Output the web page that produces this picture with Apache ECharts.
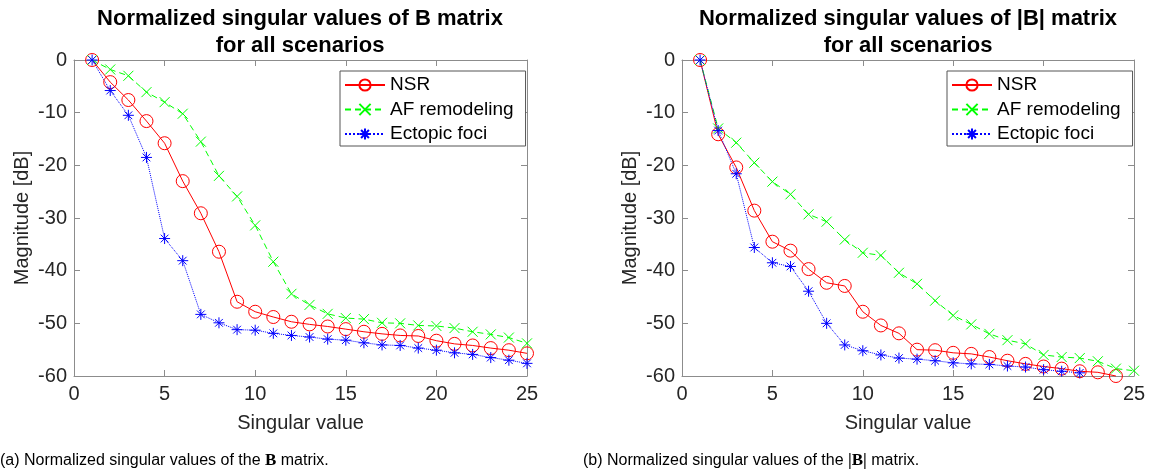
<!DOCTYPE html>
<html>
<head>
<meta charset="utf-8">
<script src="https://cdn.jsdelivr.net/npm/echarts@6/dist/echarts.min.js"></script>
<style>
html,body{margin:0;padding:0;background:#fff;}
#c{width:1150px;height:475px;}
</style>
</head>
<body>
<div id="c"></div>
<script>
// ---- data ----
var singularIdx = [1,2,3,4,5,6,7,8,9,10,11,12,13,14,15,16,17,18,19,20,21,22,23,24,25];
var seriesNames = ['NSR', 'AF remodeling', 'Ectopic foci'];
var xTicks = [0, 5, 10, 15, 20, 25];
var yTicks = [-60, -50, -40, -30, -20, -10, 0];

// (a) B matrix
var leftNSR = [0,-4.2,-7.6,-11.6,-15.8,-23.0,-29.1,-36.4,-45.9,-47.8,-48.8,-49.7,-50.2,-50.6,-51.1,-51.6,-52.0,-52.3,-52.4,-53.3,-53.9,-54.2,-54.7,-55.1,-55.7];
var leftAF = [0,-1.8,-3.0,-6.1,-8.0,-10.2,-15.5,-22.0,-25.9,-31.4,-38.3,-44.4,-46.5,-48.2,-49.0,-49.2,-49.9,-50.0,-50.4,-50.5,-50.9,-51.6,-52.1,-52.7,-53.8];
var leftEF = [0,-5.8,-10.5,-18.5,-33.9,-38.1,-48.3,-49.9,-51.2,-51.3,-51.9,-52.3,-52.6,-53.0,-53.2,-53.7,-54.1,-54.2,-54.7,-55.1,-55.6,-55.9,-56.5,-57.0,-57.6];

// (b) |B| matrix
var rightNSR = [0,-14.1,-20.4,-28.6,-34.5,-36.2,-39.7,-42.3,-42.9,-47.8,-50.4,-51.9,-55.0,-55.1,-55.6,-55.8,-56.4,-57.1,-57.7,-58.2,-58.6,-59.1,-59.3,-60.0];
var rightAF = [0,-13.0,-15.7,-19.5,-23.1,-25.5,-29.3,-30.7,-34.1,-36.6,-37.1,-40.4,-42.5,-45.7,-48.5,-50.2,-52.0,-53.2,-53.9,-56.0,-56.4,-56.6,-57.2,-58.6,-59.0];
var rightEF = [0,-13.4,-21.6,-35.6,-38.5,-39.2,-43.9,-50.0,-54.1,-55.2,-56.0,-56.6,-56.8,-57.1,-57.5,-57.7,-57.8,-58.1,-58.3,-58.8,-59.1,-59.4];

var titles = ['Normalized singular values of B matrix\nfor all scenarios',
              'Normalized singular values of |B| matrix\nfor all scenarios'];
var captions = ['(a) Normalized singular values of the {b|B} matrix.',
                '(b) Normalized singular values of the {b||}{b|B}{b||} matrix.'];

// ---- build ----
function pairs(vals){ return vals.map(function(v,i){ return [singularIdx[i], v]; }); }

var FONT = '"Liberation Sans", Arial, sans-serif';
var AXC = '#8c8c8c';
var TXC = '#262626';
var xSym = 'path://M0,0L10,10M10,0L0,10';
var starSym = 'path://M5,0L5,10M0,5L10,5M1.5,1.5L8.5,8.5M8.5,1.5L1.5,8.5';

var styles = [
  {color:'#ff0000', type:'solid', symbol:'circle', size:13},
  {color:'#00ff00', type:[6,4], symbol:xSym, size:10},
  {color:'#0000ff', type:'dotted', symbol:starSym, size:11}
];

var grids = [
  {left:74, right:623, top:60, bottom:99},
  {left:682, right:16, top:60, bottom:99}
];

var xAxes = [], yAxes = [];
grids.forEach(function(g, gi){
  xAxes.push({
    gridIndex: gi, type:'value', min: xTicks[0], max: xTicks[xTicks.length-1], interval: xTicks[1]-xTicks[0],
    position:'bottom',
    axisLine:{show:true, onZero:false, lineStyle:{color:AXC, width:1}},
    axisTick:{show:true, inside:true, length:6, lineStyle:{color:AXC}},
    axisLabel:{color:TXC, fontSize:20, fontFamily:FONT, margin:8},
    splitLine:{show:false},
    name:'Singular value', nameLocation:'middle', nameGap:37,
    nameTextStyle:{color:TXC, fontSize:20, fontFamily:FONT}
  });
  xAxes.push({
    gridIndex: gi, type:'value', min: xTicks[0], max: xTicks[xTicks.length-1], interval: xTicks[1]-xTicks[0],
    position:'top',
    axisLine:{show:true, onZero:false, lineStyle:{color:AXC, width:1}},
    axisTick:{show:true, inside:true, length:6, lineStyle:{color:AXC}},
    axisLabel:{show:false}, splitLine:{show:false}
  });
  yAxes.push({
    gridIndex: gi, type:'value', min: yTicks[0], max: yTicks[yTicks.length-1], interval: yTicks[1]-yTicks[0],
    position:'left',
    axisLine:{show:true, onZero:false, lineStyle:{color:AXC, width:1}},
    axisTick:{show:true, inside:true, length:6, lineStyle:{color:AXC}},
    axisLabel:{color:TXC, fontSize:20, fontFamily:FONT, margin:7},
    splitLine:{show:false},
    name:'Magnitude [dB]', nameLocation:'middle', nameGap:42, nameRotate:90,
    nameTextStyle:{color:TXC, fontSize:20, fontFamily:FONT}
  });
  yAxes.push({
    gridIndex: gi, type:'value', min: yTicks[0], max: yTicks[yTicks.length-1], interval: yTicks[1]-yTicks[0],
    position:'right',
    axisLine:{show:true, onZero:false, lineStyle:{color:AXC, width:1}},
    axisTick:{show:true, inside:true, length:6, lineStyle:{color:AXC}},
    axisLabel:{show:false}, splitLine:{show:false}
  });
});

var dataSets = [[leftNSR, leftAF, leftEF], [rightNSR, rightAF, rightEF]];
var series = [];
dataSets.forEach(function(set, gi){
  set.forEach(function(vals, si){
    var s = styles[si];
    series.push({
      name: seriesNames[si], type:'line',
      xAxisIndex: gi*2, yAxisIndex: gi*2,
      data: pairs(vals),
      symbol: s.symbol, symbolSize: s.size, showAllSymbol:true,
      clip:false, animation:false,
      lineStyle:{color:s.color, width:1, type:s.type},
      itemStyle:{color: si===0 ? 'rgba(0,0,0,0)' : s.color, borderColor:s.color, borderWidth:1},
      emphasis:{disabled:true}
    });
  });
});

function legendAt(left){
  return {
    orient:'vertical', left:left, top:71,
    data: seriesNames,
    itemWidth:40, itemHeight:14, itemGap:4.5,
    padding:[4, 12, 2, 4],
    backgroundColor:'#fff', borderColor:'#555', borderWidth:1,
    textStyle:{color:'#000', fontSize:19, fontFamily:FONT, lineHeight:20},
    selectedMode:false
  };
}

var graphics = [];
[300, 908].forEach(function(cx, i){
  graphics.push({
    type:'text', x:cx, y:5, silent:true,
    style:{text: titles[i], align:'center', verticalAlign:'top',
      font:'bold 22px ' + FONT, fill:'#000', lineHeight:27}
  });
});
[0, 583].forEach(function(x0, i){
  graphics.push({
    type:'text', x:x0, y:461, silent:true,
    style:{text: captions[i], align:'left', verticalAlign:'middle',
      font:'16px ' + FONT, fill:'#000',
      rich:{b:{fontFamily:'"Liberation Serif", serif', fontWeight:'bold', fontSize:17, fill:'#000'}}}
  });
});

var chart = echarts.init(document.getElementById('c'), null, {renderer:'canvas'});
chart.setOption({
  animation:false,
  backgroundColor:'#fff',
  grid: grids,
  xAxis: xAxes,
  yAxis: yAxes,
  legend: [legendAt(340), legendAt(947)],
  series: series,
  graphic: graphics
});
</script>
</body>
</html>
